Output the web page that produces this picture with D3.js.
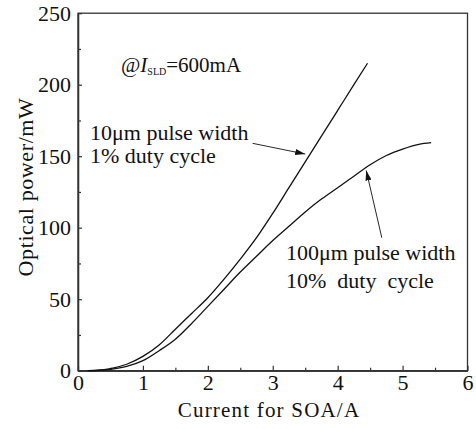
<!DOCTYPE html>
<html><head><meta charset="utf-8">
<script src="https://cdn.jsdelivr.net/npm/d3@7"></script>
<style>
html,body{margin:0;padding:0;background:#fff;}
svg text{font-family:"Liberation Serif","Times New Roman",serif;fill:#111;}
</style>
</head><body>
<svg id="chart" width="476" height="429"></svg>
<script>
// Data
const currentNarrow = [0.15,0.3,0.5,0.75,1.0,1.25,1.5,1.75,2.0,2.25,2.5,2.75,3.0,3.25,3.5,3.75,4.0,4.25,4.46];
const powerNarrow   = [0,0.3,1.5,4.5,10,18,29,40,51,64,78,93,110,128,146,164,182,200,215];
const currentWide = [0.15,0.5,0.75,1.0,1.25,1.5,1.75,2.0,2.25,2.5,2.75,3.0,3.25,3.5,3.75,4.0,4.25,4.5,4.75,5.0,5.25,5.44];
const powerWide   = [0,1,3,7,14,22,33,45,57,69,80,91,101,111,120,128,136,144,150.5,155,158.3,159.5];
const xTicks = [0,1,2,3,4,5,6];
const xMinor = [0.5,1.5,2.5,3.5,4.5,5.5];
const yTicks = [0,50,100,150,200,250];
const yMinor = [25,75,125,175,225];

const svg = d3.select("#chart");
const L = 78, R = 467.5, T = 13.2, B = 370.7;
const x = d3.scaleLinear().domain([0,6]).range([L,R]);
const y = d3.scaleLinear().domain([0,250]).range([B,T]);
const axisColor = "#333";

// frame
svg.append("rect").attr("x",L).attr("y",T).attr("width",R-L).attr("height",B-T)
  .attr("fill","none").attr("stroke",axisColor).attr("stroke-width",1.3);

// x axis
const gx = svg.append("g").attr("transform",`translate(0,${B})`)
  .call(d3.axisBottom(x).tickValues(xTicks).tickFormat(d3.format("d")).tickSizeInner(-5).tickSizeOuter(0).tickPadding(4));
const gxm = svg.append("g").attr("transform",`translate(0,${B})`)
  .call(d3.axisBottom(x).tickValues(xMinor).tickFormat("").tickSizeInner(-3).tickSizeOuter(0));
// y axis
const gy = svg.append("g").attr("transform",`translate(${L},0)`)
  .call(d3.axisLeft(y).tickValues(yTicks).tickFormat(d3.format("d")).tickSizeInner(-4).tickSizeOuter(0).tickPadding(7));
const gym = svg.append("g").attr("transform",`translate(${L},0)`)
  .call(d3.axisLeft(y).tickValues(yMinor).tickFormat("").tickSizeInner(-3).tickSizeOuter(0));
[gx,gxm,gy,gym].forEach(g=>{
  g.select(".domain").attr("stroke",axisColor).attr("stroke-width",1.3);
  g.selectAll(".tick line").attr("stroke",axisColor).attr("stroke-width",1.2);
  g.selectAll("text").attr("font-size",22).attr("font-family","Liberation Serif, serif").attr("fill","#111");
});
gx.selectAll("text").attr("dy","0.71em");

// axis titles
svg.append("text").attr("x",269).attr("y",417).attr("text-anchor","middle")
  .attr("font-size",21).attr("letter-spacing","1.2px").text("Current for SOA/A");
svg.append("text").attr("transform","translate(33,187) rotate(-90)").attr("text-anchor","middle")
  .attr("font-size",22).attr("letter-spacing","0.6px").text("Optical power/mW");

// curves
const line = d3.line().x(d=>x(d[0])).y(d=>y(d[1])).curve(d3.curveMonotoneX);
svg.append("path").datum(d3.zip(currentNarrow,powerNarrow)).attr("d",line)
  .attr("fill","none").attr("stroke","#111").attr("stroke-width",1.3);
svg.append("path").datum(d3.zip(currentWide,powerWide)).attr("d",line)
  .attr("fill","none").attr("stroke","#111").attr("stroke-width",1.3);

// arrowheads
svg.append("defs").append("marker").attr("id","ah").attr("viewBox","0 0 10 6")
  .attr("refX",10).attr("refY",3).attr("markerWidth",10).attr("markerHeight",6)
  .attr("markerUnits","userSpaceOnUse").attr("orient","auto")
  .append("path").attr("d","M0,0 L10,3 L0,6 Z").attr("fill","#111");

// annotation arrows (anchored in data space)
svg.append("line").attr("x1",x(2.69)).attr("y1",y(159)).attr("x2",x(3.5)).attr("y2",y(151.5))
  .attr("stroke","#111").attr("stroke-width",0.9).attr("marker-end","url(#ah)");
svg.append("line").attr("x1",x(4.68)).attr("y1",y(93)).attr("x2",x(4.44)).attr("y2",y(140))
  .attr("stroke","#111").attr("stroke-width",0.9).attr("marker-end","url(#ah)");

// annotation texts
const t0 = svg.append("text").attr("x",121).attr("y",71.7).attr("font-size",21);
t0.append("tspan").text("@");
t0.append("tspan").attr("font-style","italic").text("I");
t0.append("tspan").attr("font-size",10).attr("dy",3).text("SLD");
t0.append("tspan").attr("dy",-3).text("=600mA");

svg.append("text").attr("x",90).attr("y",140).attr("font-size",22).text("10μm pulse width");
svg.append("text").attr("x",90).attr("y",163).attr("font-size",22).text("1% duty cycle");
svg.append("text").attr("x",286).attr("y",260).attr("font-size",22).text("100μm pulse width");
svg.append("text").attr("x",286).attr("y",288).attr("font-size",22).attr("xml:space","preserve")
  .style("white-space","pre").text("10%  duty  cycle");
</script>
</body></html>
